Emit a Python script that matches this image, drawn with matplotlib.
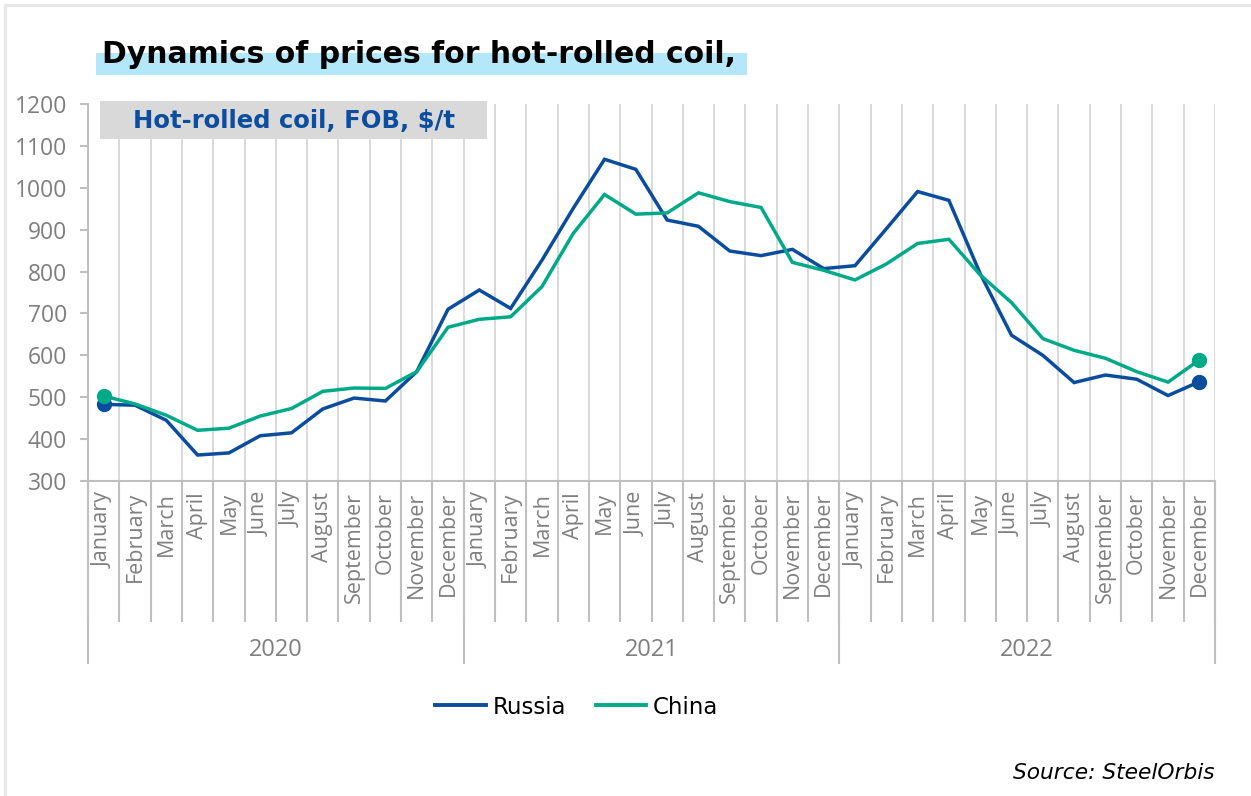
import matplotlib
matplotlib.use("Agg")
import matplotlib.pyplot as plt
import matplotlib.patches as patches
from matplotlib.lines import Line2D
import numpy as np

# ---- data -------------------------------------------------------------
months = ["January", "February", "March", "April", "May", "June", "July",
          "August", "September", "October", "November", "December"]
years = ["2020", "2021", "2022"]

russia = [483, 481, 445, 362, 367, 408, 415, 472, 498, 491, 561, 710,
          756, 712, 827, 951, 1068, 1044, 923, 908, 849, 838, 853, 807,
          814, 902, 991, 970, 795, 648, 600, 535, 553, 543, 504, 537]
china = [503, 484, 457, 421, 426, 455, 473, 514, 522, 521, 561, 667,
         686, 692, 764, 891, 984, 937, 940, 988, 967, 953, 822, 803,
         780, 818, 867, 877, 792, 726, 640, 612, 593, 561, 536, 589]

series_names = ["Russia", "China"]
series_colors = ["#0a4c9e", "#00aa88"]

title_text = "Dynamics of prices for hot-rolled coil,"
box_text = "Hot-rolled coil, FOB, $/t"
source_text = "Source: SteelOrbis"

# ---- figure -----------------------------------------------------------
W, H = 1251, 796
fig = plt.figure(figsize=(W / 100, H / 100), dpi=100)
fig.patch.set_facecolor("white")


def fx(px):
    return px / W


def fy(py):
    return 1 - py / H


# light frame around the whole graphic
fig.patches.append(patches.Rectangle((fx(5), fy(1000)), fx(1400), fy(5) - fy(1000),
                                     transform=fig.transFigure, fill=False,
                                     edgecolor="#e8e8e8", linewidth=2.2))

# title with highlighter band
fig.patches.append(patches.Rectangle((fx(96), fy(75)), fx(747) - fx(96), fy(53) - fy(75),
                                     transform=fig.transFigure, facecolor="#b5e7fa",
                                     edgecolor="none", zorder=0))
fig.text(fx(102), fy(63), title_text, fontsize=21.5, fontweight="bold",
         family="DejaVu Sans", color="black", va="baseline", ha="left", zorder=2)

# ---- axes -------------------------------------------------------------
left, right, top, bottom = 88, 1215, 104, 481
ax = fig.add_axes([fx(left), fy(bottom), fx(right) - fx(left), fy(top) - fy(bottom)])
n = len(russia)
x = np.arange(n) + 0.5
ax.set_xlim(0, n)
ax.set_ylim(300, 1200)

grid_c = "#d9d9d9"
axis_c = "#bfbfbf"
tick_c = "#7f7f7f"

for vals, name, col in zip([russia, china], series_names, series_colors):
    ax.plot(x, vals, color=col, linewidth=2.5, solid_joinstyle="miter",
            marker="o", markersize=10, markevery=[0, n - 1], label=name,
            zorder=3, clip_on=False)

ax.set_yticks(np.arange(300, 1201, 100))
ax.tick_params(axis="y", length=6, width=1.5, color=axis_c, pad=9,
               labelsize=16.5, labelcolor=tick_c)
for lab in ax.get_yticklabels():
    lab.set_family("Open Sans")

# month labels under each category
ax.set_xticks(x)
ax.set_xticklabels(months * len(years), rotation=90, fontsize=15.5,
                   color=tick_c, family="Open Sans", va="top", ha="center")
ax.tick_params(axis="x", length=0, pad=8)

# category boundaries: gridlines inside, separators below the axis
bounds = np.arange(0, n + 1)
ax.vlines(bounds, 300, 1200, color=grid_c, linewidth=1.4, zorder=1)
xt = ax.get_xaxis_transform()
sep_low = -(622 - bottom) / (bottom - top)
year_low = -(664 - bottom) / (bottom - top)
ax.vlines(bounds, sep_low, 0, transform=xt, color=axis_c, linewidth=1.5,
          clip_on=False)
ax.vlines(bounds[::12], year_low, 0, transform=xt, color=axis_c, linewidth=1.5,
          clip_on=False)

year_y = -(650 - bottom) / (bottom - top)
for i, yr in enumerate(years):
    ax.text(i * 12 + 6, year_y, yr, transform=xt, ha="center", va="center",
            fontsize=17, color=tick_c, family="Open Sans")

for s in ["top", "right"]:
    ax.spines[s].set_visible(False)
for s in ["left", "bottom"]:
    ax.spines[s].set_color(axis_c)
    ax.spines[s].set_linewidth(1.5)

# caption box inside the plot area
fig.patches.append(patches.Rectangle((fx(100), fy(139)), fx(487) - fx(100), fy(101) - fy(139),
                                     transform=fig.transFigure, facecolor="#d9d9d9",
                                     edgecolor="none", zorder=5))
fig.text(fx(294), fy(121), box_text, fontsize=17.5, fontweight="bold",
         family="DejaVu Sans", color="#0b4d9f", ha="center", va="center", zorder=6)

# legend
handles = [Line2D([0], [0], color=c, linewidth=2.8) for c in series_colors]
fig.legend(handles, series_names, loc="center", bbox_to_anchor=(fx(577), fy(707)),
           ncol=2, frameon=False, prop={"family": "DejaVu Sans", "size": 16.5},
           handlelength=2.2, handletextpad=0.3, columnspacing=1.3)

# source note
fig.text(fx(1215), fy(779), source_text, fontsize=15.7, style="italic",
         family="DejaVu Sans", color="black", ha="right", va="baseline")

fig.savefig("out.png", dpi=100)
